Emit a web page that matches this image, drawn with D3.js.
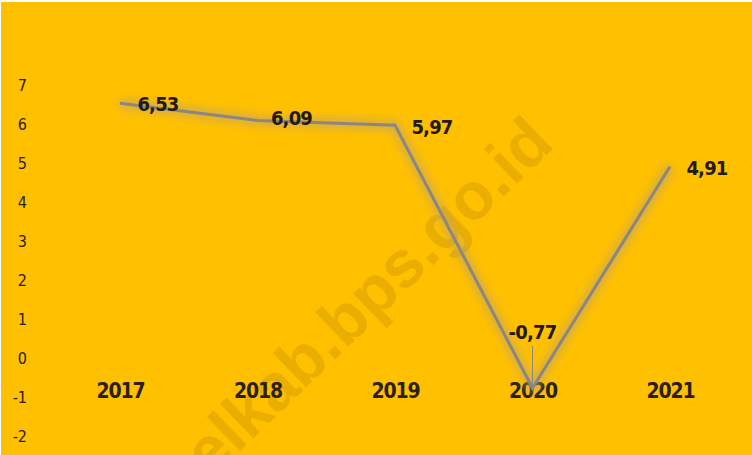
<!DOCTYPE html>
<html>
<head>
<meta charset="utf-8">
<script src="https://cdn.jsdelivr.net/npm/d3@7"></script>
<style>
  html, body { margin: 0; padding: 0; background: #fff; }
  svg { display: block; }
  .cond { font-family: 'DejaVu Sans Condensed', 'DejaVu Sans', sans-serif; font-stretch: condensed; }
</style>
</head>
<body>
<svg id="chart" width="752" height="455"></svg>
<script>
// Annual growth (%) by year
const years = ["2017", "2018", "2019", "2020", "2021"];
const growth = [6.53, 6.09, 5.97, -0.77, 4.91];
const yTicks = [-2, -1, 0, 1, 2, 3, 4, 5, 6, 7];
const valueLabels = ["6,53", "6,09", "5,97", "-0,77", "4,91"];

const W = 752, H = 455;
const svg = d3.select("#chart");

// background panel
svg.append("rect").attr("x", 1).attr("y", 2).attr("width", W - 1).attr("height", H - 2)
  .attr("fill", "#FFC000");

const defs = svg.append("defs");
defs.append("filter").attr("id", "glow").attr("x", "-20%").attr("y", "-20%")
  .attr("width", "140%").attr("height", "140%")
  .append("feGaussianBlur").attr("stdDeviation", 4);

const x = d3.scalePoint().domain(years).range([120, 670]);
const y = d3.scaleLinear().domain([-2, 7]).range([436, 85]);

// watermark
svg.append("text")
  .attr("transform", "translate(556,146) rotate(-44)")
  .attr("text-anchor", "end")
  .attr("font-family", "'Liberation Sans', Arial, sans-serif")
  .attr("font-weight", "bold")
  .attr("font-size", 66)
  .attr("fill", "#E9AE00")
  .text("selkab.bps.go.id");

// value axis
const yAxis = d3.axisLeft(y).tickValues(yTicks).tickSize(0).tickFormat(d => String(d));
const gy = svg.append("g").attr("transform", "translate(30,0)").call(yAxis);
gy.select(".domain").remove();
gy.selectAll("text")
  .attr("class", "cond").attr("font-size", 16).attr("fill", "#2b2118")
  .attr("text-anchor", "end").attr("dx", 0);

// category axis
const xAxis = d3.axisBottom(x).tickSize(0);
const gx = svg.append("g").attr("transform", "translate(0,380)").call(xAxis);
gx.select(".domain").remove();
gx.selectAll("text")
  .attr("class", "cond").attr("font-size", 21).attr("font-weight", "bold")
  .attr("letter-spacing", -1.2)
  .attr("fill", "#2b2118");

const pts = years.map((yr, i) => [x(yr), y(growth[i])]);
const line = d3.line();

// soft halo behind the series line
svg.append("path").attr("d", line(pts))
  .attr("fill", "none").attr("stroke", "#b8a070").attr("stroke-opacity", 0.6)
  .attr("stroke-width", 10).attr("stroke-linejoin", "round")
  .attr("filter", "url(#glow)");

svg.append("path").attr("d", line(pts))
  .attr("fill", "none").attr("stroke", "#8d8680")
  .attr("stroke-width", 3).attr("stroke-linejoin", "miter");

// data labels
const labelOffsets = [
  {dx: 38, dy: 1},
  {dx: 34, dy: -2},
  {dx: 37, dy: 2},
  {dx: 0, dy: -56},
  {dx: 37, dy: 1}
];
svg.append("g").selectAll("text").data(years).join("text")
  .attr("class", "cond")
  .attr("x", (d, i) => x(d) + labelOffsets[i].dx)
  .attr("y", (d, i) => y(growth[i]) + labelOffsets[i].dy)
  .attr("dominant-baseline", "central")
  .attr("text-anchor", "middle")
  .attr("font-size", 20).attr("font-weight", "bold")
  .attr("letter-spacing", -0.8)
  .attr("fill", "#231a14")
  .text((d, i) => valueLabels[i]);

// leader line for the 2020 label
const i20 = years.indexOf("2020");
svg.append("line")
  .attr("x1", x("2020")).attr("x2", x("2020"))
  .attr("y1", y(growth[i20]) - 42).attr("y2", y(growth[i20]) - 2)
  .attr("stroke", "#8d8680").attr("stroke-width", 1);
</script>
</body>
</html>
